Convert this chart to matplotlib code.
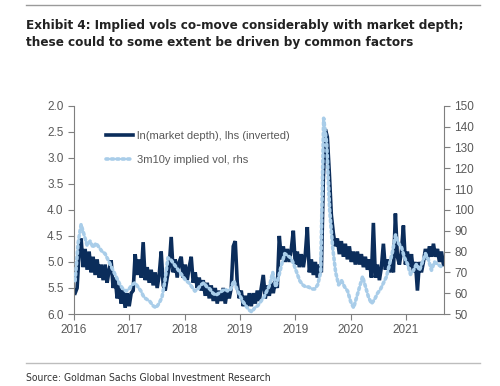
import numpy as np
import matplotlib.pyplot as plt
from matplotlib.lines import Line2D

# ln(market depth), lhs (inverted), evenly spaced in time
depth = [5.6, 5.5, 4.8, 4.55, 5.1, 4.75, 5.15, 4.8, 5.2, 4.9,
         5.25, 4.95, 5.3, 5.05, 5.35, 5.05, 5.4, 5.15, 4.97, 5.5,
         5.3, 5.7, 5.45, 5.8, 5.55, 5.88, 5.6, 5.85, 5.6, 5.55,
         4.85, 5.25, 4.95, 5.3, 4.62, 5.35, 5.1, 5.4, 5.15, 5.45,
         5.2, 5.5, 5.25, 4.8, 5.45, 5.55, 5.3, 5.1, 4.52, 5.2,
         4.95, 5.3, 5.0, 4.9, 5.3, 5.05, 5.35, 5.1, 4.9, 5.4,
         5.2, 5.5, 5.3, 5.55, 5.35, 5.65, 5.4, 5.7, 5.45, 5.75,
         5.5, 5.8, 5.55, 5.75, 5.5, 5.8, 5.55, 5.7, 5.5, 4.7,
         4.6, 5.4, 5.7, 5.55, 5.85, 5.65, 5.85, 5.6, 5.85, 5.6,
         5.8, 5.55, 5.75, 5.5, 5.25, 5.7, 5.45, 5.65, 5.4, 5.6,
         5.35, 5.5, 4.5, 4.95, 4.7, 5.0, 4.75, 5.0, 4.75, 4.4,
         5.05, 4.8, 5.1, 4.85, 5.1, 4.85, 4.33, 5.2, 4.95, 5.25,
         5.0, 5.3, 5.05, 5.2, 3.4, 2.45, 2.6, 3.3, 4.1, 4.45,
         4.7, 4.55, 4.85, 4.6, 4.9, 4.65, 4.95, 4.7, 5.0, 4.8,
         5.05, 4.8, 5.05, 4.85, 5.1, 4.9, 5.15, 4.95, 5.3, 4.25,
         5.3, 5.05, 5.35, 5.1, 4.65, 5.15, 4.95, 5.2, 5.0, 5.2,
         4.07, 4.9, 5.05, 4.8, 4.3, 5.05, 4.8, 5.1, 4.85, 5.2,
         5.0, 5.55, 5.0, 5.2, 5.0, 4.75, 4.95, 4.7, 4.9, 4.65,
         4.9, 4.75, 5.0, 4.8, 5.05]

# 3m10y implied vol, rhs
vol = [66, 84, 93, 88, 83, 85, 82, 84, 82, 80,
       79, 76, 73, 70, 67, 64, 62, 61, 62, 64,
       65, 63, 61, 58, 57, 56, 54, 53, 55, 58,
       66, 77, 76, 74, 72, 70, 68, 66, 65, 63,
       61, 62, 64, 65, 63, 62, 60, 59, 60, 61,
       62, 61, 62, 66, 62, 59, 56, 54, 52, 51,
       53, 54, 56, 58, 61, 64, 70, 63, 68, 74,
       79, 78, 77, 74, 70, 66, 64, 63, 63, 62,
       62, 64, 70, 144, 132, 100, 82, 70, 64, 66,
       63, 61, 56, 53, 58, 63, 68, 63, 58, 55,
       57, 60, 62, 65, 68, 74, 80, 88, 84, 82,
       77, 74, 69, 71, 74, 71, 75, 79, 76, 71,
       75, 74, 73, 72]

tick_labels = ['2016', '2017', '2018', '2019', '2019', '2020', '2021']
left_ticks = [2.0, 2.5, 3.0, 3.5, 4.0, 4.5, 5.0, 5.5, 6.0]
right_ticks = [50, 60, 70, 80, 90, 100, 110, 120, 130, 140, 150]

navy = '#0b2d5b'
light = '#a9cde9'
grey = '#7f7f7f'
txt = '#595959'
narrow = ['DejaVu Sans']

plt.rcParams['font.family'] = ['Liberation Sans', 'DejaVu Sans']

fig = plt.figure(figsize=(5, 3.86), dpi=100)
ax = fig.add_axes([0.148, 0.1865, 0.74, 0.5395])
ax2 = ax.twinx()

x = np.linspace(0.02, 6.68, len(depth))
ax.plot(x, depth, color=navy, lw=2.6, solid_joinstyle='miter')
x2 = np.linspace(0.02, 6.68, len(vol))
ax2.plot(x2, vol, color=light, lw=2.6, linestyle=(0, (0.6, 0.9)),
         dash_capstyle='round')

ax.set_xlim(0, 6.69)
ax.set_ylim(6.0, 2.0)
ax.set_yticks(left_ticks)
ax.set_yticklabels([f'{v:.1f}' for v in left_ticks])
ax.set_xticks(range(len(tick_labels)))
ax.set_xticklabels(tick_labels)
ax2.set_ylim(50, 150)
ax2.set_yticks(right_ticks)

for a in (ax, ax2):
    for s in a.spines.values():
        s.set_color(grey)
        s.set_linewidth(0.8)
    a.spines['top'].set_visible(False)
    a.tick_params(colors=grey, labelcolor=txt, labelsize=8.5, length=4, width=0.8)
ax.spines['right'].set_visible(False)
ax2.spines['left'].set_visible(False)
ax2.spines['bottom'].set_visible(False)

handles = [Line2D([], [], color=navy, lw=2.6),
           Line2D([], [], color=light, lw=2.6, linestyle=(0, (0.6, 0.9)),
                  dash_capstyle='round')]
ax2.legend(handles, ['ln(market depth), lhs (inverted)', '3m10y implied vol, rhs'],
           loc='upper left', bbox_to_anchor=(0.075, 0.9), frameon=False,
           fontsize=8, labelcolor=txt, handlelength=2.4, handletextpad=0.4,
           labelspacing=1.25, borderaxespad=0)

# title, rules and source line
fig.add_artist(Line2D([0.052, 0.96], [0.988, 0.988], color='#9a9a9a', lw=1.0))
fig.add_artist(Line2D([0.052, 0.96], [0.06, 0.06], color='#bdbdbd', lw=1.0))
fig.text(0.053, 0.95, 'Exhibit 4: Implied vols co-move considerably with market depth;\n'
         'these could to some extent be driven by common factors',
         family=narrow, fontstretch='condensed', fontweight='bold',
         fontsize=9.6, color='#222222', va='top', linespacing=1.35)
fig.text(0.053, 0.022, 'Source: Goldman Sachs Global Investment Research',
         family=narrow, fontstretch='condensed', fontsize=7.5,
         color='#333333', va='center')

fig.savefig('out.png', dpi=100)
